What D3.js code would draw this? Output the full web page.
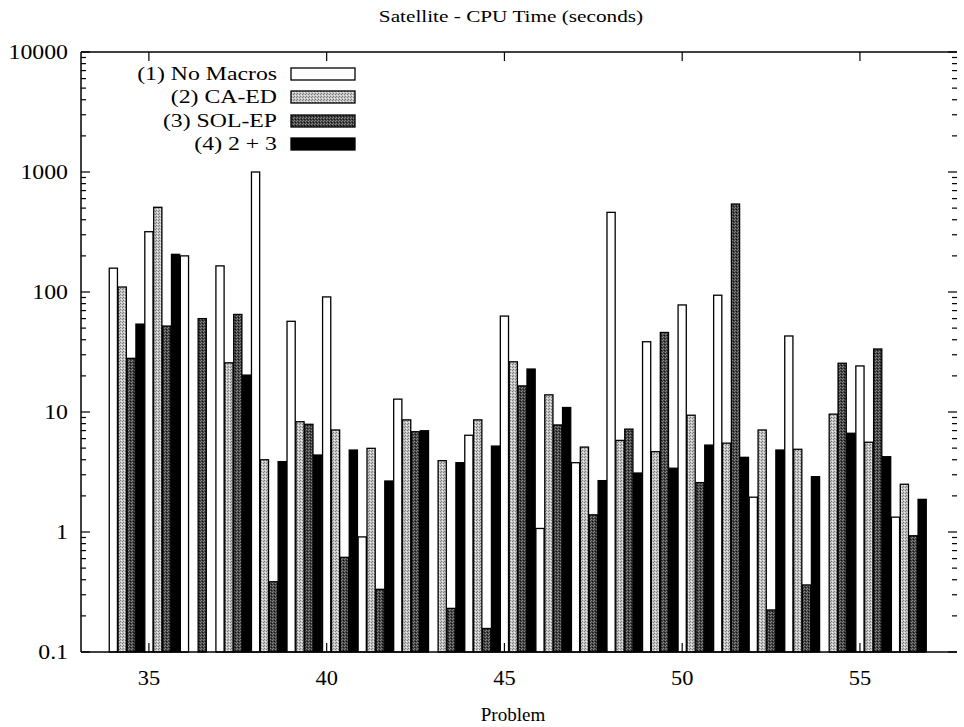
<!DOCTYPE html>
<html>
<head>
<meta charset="utf-8">
<script src="https://cdn.jsdelivr.net/npm/d3@7"></script>
<style>
  html, body { margin: 0; padding: 0; background: #fff; }
  svg { display: block; }
  text { font-family: "Liberation Serif", "Times New Roman", serif; fill: #000; }
</style>
</head>
<body>
<svg id="chart" width="964" height="727"></svg>
<script>
// ---- data ----
const problems = [34,35,36,37,38,39,40,41,42,43,44,45,46,47,48,49,50,51,52,53,54,55,56];
const noMacros = [158,318,200,165,1000,57,91,0.91,12.8,null,6.4,63,1.07,3.78,461,38.5,78,94,1.95,43,null,24.2,1.33];
const caEd     = [110,508,null,25.7,4.0,8.3,7.08,4.98,8.6,3.93,8.6,26.2,13.9,5.1,5.8,4.67,9.4,5.5,7.08,4.89,9.6,5.6,2.5];
const solEp    = [28,52,60,65,0.385,7.9,0.615,0.333,6.85,0.231,0.157,16.5,7.8,1.39,7.2,46,2.58,541,0.224,0.362,25.5,33.5,0.93];
const both     = [54,206,null,20.3,3.86,4.38,4.82,2.66,6.98,3.78,5.2,22.8,10.9,2.68,3.1,3.4,5.3,4.19,4.82,2.89,6.65,4.24,1.87];
const seriesNames = ["(1) No Macros", "(2) CA-ED", "(3) SOL-EP", "(4) 2 + 3"];
const xTickValues = [35,40,45,50,55];
const yTickValues = [0.1,1,10,100,1000,10000];
const yTickLabels = ["0.1","1","10","100","1000","10000"];
const titleText = "Satellite - CPU Time (seconds)";
const xLabelText = "Problem";

// ---- layout ----
const pLeft = 81, pRight = 957, pTop = 52, pBottom = 652;
const svg = d3.select("#chart");

const x = d3.scaleLinear().domain([33.09, 57.73]).range([pLeft, pRight]);
const y = d3.scaleLog().domain([0.1, 10000]).range([pBottom, pTop]);
const unit = x(35) - x(34);
const barW = unit / 4;

// patterns
const defs = svg.append("defs");
function stipple(id, base, dot, dot2) {
  const p = defs.append("pattern").attr("id", id).attr("patternUnits", "userSpaceOnUse")
    .attr("width", 3).attr("height", 3);
  p.append("rect").attr("width", 3).attr("height", 3).attr("fill", base);
  p.append("rect").attr("x", 0).attr("y", 0).attr("width", 1).attr("height", 1).attr("fill", dot);
  p.append("rect").attr("x", 2).attr("y", 1).attr("width", 1).attr("height", 1).attr("fill", dot);
  p.append("rect").attr("x", 1).attr("y", 2).attr("width", 1).attr("height", 1).attr("fill", dot2);
}
stipple("pGray", "#c4c4c4", "#7a7a7a", "#eeeeee");
stipple("pDark", "#444444", "#8a8a8a", "#111111");
const fills = ["#ffffff", "url(#pGray)", "url(#pDark)", "#000000"];

const series = [noMacros, caEd, solEp, both];

// bars
const barData = [];
series.forEach((vals, s) => {
  vals.forEach((v, i) => {
    if (v !== null) barData.push({ p: problems[i], s, v });
  });
});
svg.append("g").selectAll("rect").data(barData).enter().append("rect")
  .attr("x", d => x(d.p) - barW / 2 + d.s * barW + 0.35)
  .attr("width", barW - 0.7)
  .attr("y", d => y(d.v))
  .attr("height", d => pBottom - y(d.v))
  .attr("fill", d => fills[d.s])
  .attr("stroke", "#000")
  .attr("stroke-width", 1.3);

// axes frame
const axisG = svg.append("g").attr("stroke", "#000").attr("stroke-width", 1.5);
axisG.append("line").attr("x1", pLeft).attr("x2", pRight).attr("y1", pTop).attr("y2", pTop);
axisG.append("line").attr("x1", pLeft).attr("x2", pRight).attr("y1", pBottom).attr("y2", pBottom);
axisG.append("line").attr("x1", pLeft).attr("x2", pLeft).attr("y1", pTop).attr("y2", pBottom);

// y ticks (major + minor, both sides, inward)
const minor = [];
for (let e = -1; e < 4; e++) for (let m = 2; m <= 9; m++) minor.push(m * Math.pow(10, e));
const tickG = svg.append("g").attr("stroke", "#000").attr("stroke-width", 1.2);
yTickValues.forEach(v => {
  tickG.append("line").attr("x1", pLeft).attr("x2", pLeft + 9).attr("y1", y(v)).attr("y2", y(v));
  tickG.append("line").attr("x1", pRight).attr("x2", pRight - 9).attr("y1", y(v)).attr("y2", y(v));
});
minor.forEach(v => {
  tickG.append("line").attr("x1", pLeft).attr("x2", pLeft + 5).attr("y1", y(v)).attr("y2", y(v));
  tickG.append("line").attr("x1", pRight).attr("x2", pRight - 5).attr("y1", y(v)).attr("y2", y(v));
});
// x ticks top and bottom
xTickValues.forEach(v => {
  tickG.append("line").attr("x1", x(v)).attr("x2", x(v)).attr("y1", pBottom).attr("y2", pBottom - 9);
  tickG.append("line").attr("x1", x(v)).attr("x2", x(v)).attr("y1", pTop).attr("y2", pTop + 9);
});

// text helper: horizontally stretched serif text (the scan is wider than tall)
function stretched(g, tx, ty, str, size, sx, anchor) {
  return g.append("text")
    .attr("transform", `translate(${tx},${ty}) scale(${sx},1)`)
    .attr("text-anchor", anchor).attr("font-size", size).text(str);
}

// tick labels
const yLab = svg.append("g");
yTickValues.forEach((v, i) => stretched(yLab, pLeft - 13, y(v) + 7, yTickLabels[i], 20, 1.19, "end"));
const xLab = svg.append("g");
xTickValues.forEach(v => stretched(xLab, x(v), pBottom + 33, String(v), 20, 1.12, "middle"));

// title and axis label
stretched(svg, 511, 22, titleText, 17, 1.25, "middle");
stretched(svg, 513, 721, xLabelText, 18, 1.06, "middle");

// legend
const legY = [74, 97, 121, 144];
const leg = svg.append("g");
seriesNames.forEach((name, i) => {
  stretched(leg, 277, legY[i] + 6, name, 19, 1.25, "end");
  leg.append("rect").attr("x", 291).attr("y", legY[i] - 6).attr("width", 64).attr("height", 12)
    .attr("fill", fills[i]).attr("stroke", "#000").attr("stroke-width", 1.3);
});
</script>
</body>
</html>
